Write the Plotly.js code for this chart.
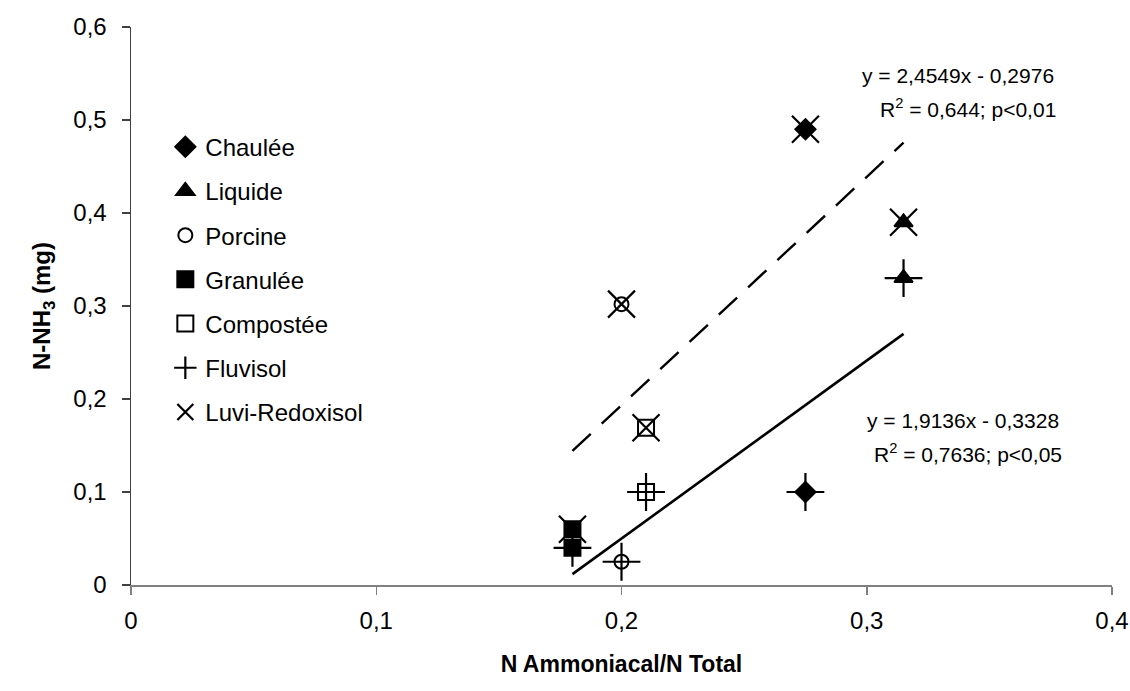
<!DOCTYPE html>
<html>
<head>
<meta charset="utf-8">
<script src="https://cdn.plot.ly/plotly-3.0.1.min.js"></script>
<style>html,body{margin:0;padding:0;background:#fff;}#chart{width:1130px;height:691px;}</style>
</head>
<body>
<div id="chart"></div>
<script>
// Fertilizer categories, x = N ammoniacal / N total
const categories = ["Chaulée", "Liquide", "Porcine", "Granulée", "Compostée"];
const ratioX = [0.275, 0.315, 0.20, 0.18, 0.21];
// N-NH3 (mg) per soil
const fluvisolY = [0.10, 0.33, 0.025, 0.04, 0.10];
const luviY = [0.49, 0.39, 0.302, 0.06, 0.169];
const soils = ["Fluvisol", "Luvi-Redoxisol"];
// trend lines (slope, intercept) and x range
const fluvisolFit = [1.9136, -0.3328];
const luviFit = [2.4549, -0.2976];
const fitRange = [0.18, 0.315];
const xTicks = [0, 0.1, 0.2, 0.3, 0.4];
const yTicks = [0, 0.1, 0.2, 0.3, 0.4, 0.5, 0.6];

const symbols = ["diamond", "triangle-up", "circle-open", "square", "square-open"];
const sizes = [15.5, 16, 14, 16, 16];
const font = "Liberation Sans, Arial, sans-serif";

const traces = [];
categories.forEach((c, i) => {
  traces.push({
    type: "scatter", mode: "markers", name: c, legendgroup: "g" + i,
    x: [ratioX[i], ratioX[i]], y: [fluvisolY[i], luviY[i]],
    marker: {symbol: symbols[i], size: sizes[i], color: "#000", line: {color: "#000", width: 2}},
    cliponaxis: false
  });
});
traces.push({
  type: "scatter", mode: "markers", name: soils[0], legendgroup: "g5",
  x: ratioX, y: fluvisolY,
  marker: {symbol: "cross-thin", size: 27, color: "#000", line: {color: "#000", width: 2.2}},
  cliponaxis: false
});
traces.push({
  type: "scatter", mode: "markers", name: soils[1], legendgroup: "g6",
  x: ratioX, y: luviY,
  marker: {symbol: "x-thin", size: 27, color: "#000", line: {color: "#000", width: 2.2}},
  cliponaxis: false
});
traces.push({
  type: "scatter", mode: "lines", showlegend: false, hoverinfo: "skip",
  x: fitRange, y: fitRange.map(v => fluvisolFit[0] * v + fluvisolFit[1]),
  line: {color: "#000", width: 2.6}
});
traces.push({
  type: "scatter", mode: "lines", showlegend: false, hoverinfo: "skip",
  x: fitRange, y: fitRange.map(v => luviFit[0] * v + luviFit[1]),
  line: {color: "#000", width: 2.4, dash: "25px,15px"}
});

const eqFont = {family: font, size: 21, color: "#000"};
const tickFont = {family: font, size: 24, color: "#000"};
const layout = {
  width: 1130, height: 691,
  margin: {l: 131, r: 18, t: 27, b: 106},
  paper_bgcolor: "#fff", plot_bgcolor: "#fff",
  separators: ", ",
  font: {family: font, color: "#000", size: 24},
  showlegend: true,
  legend: {
    x: 0.035, y: 0.825, xanchor: "left", yanchor: "top",
    font: {family: font, size: 24, color: "#000"},
    tracegroupgap: 10, bgcolor: "rgba(0,0,0,0)", borderwidth: 0
  },
  xaxis: {
    range: [0, 0.4], tickmode: "array", tickvals: xTicks, ticktext: xTicks.map(v => String(v).replace(".", ",")),
    showgrid: false, zeroline: false, showline: true, linecolor: "#808080", linewidth: 1.5,
    ticks: "outside", ticklen: 8, tickcolor: "#808080", tickwidth: 1.5,
    ticklabelstandoff: 6,
    tickfont: tickFont,
    title: {text: "<b>N Ammoniacal/N Total</b>", font: {family: font, size: 23, color: "#000"}, standoff: 22}
  },
  yaxis: {
    range: [0, 0.6], tickmode: "array", tickvals: yTicks, ticktext: yTicks.map(v => String(v).replace(".", ",")),
    showgrid: false, zeroline: false, showline: true, linecolor: "#404040", linewidth: 1.5,
    ticks: "outside", ticklen: 8, tickcolor: "#404040", tickwidth: 1.5,
    ticklabelstandoff: 10,
    tickfont: tickFont,
    title: {text: "<b>N-NH<sub>3</sub> (mg)</b>", font: {family: font, size: 24, color: "#000"}, standoff: 16}
  },
  annotations: [
    {xref: "paper", yref: "paper", x: 0.843, y: (585 - 75) / 558, text: "y = 2,4549x - 0,2976", showarrow: false, xanchor: "center", yanchor: "middle", font: eqFont},
    {xref: "paper", yref: "paper", x: 0.853, y: (585 - 108) / 558, text: "R<sup>2</sup> = 0,644; p<0,01", showarrow: false, xanchor: "center", yanchor: "middle", font: eqFont},
    {xref: "paper", yref: "paper", x: 0.848, y: (585 - 420) / 558, text: "y = 1,9136x - 0,3328", showarrow: false, xanchor: "center", yanchor: "middle", font: eqFont},
    {xref: "paper", yref: "paper", x: 0.853, y: (585 - 453) / 558, text: "R<sup>2</sup> = 0,7636; p<0,05", showarrow: false, xanchor: "center", yanchor: "middle", font: eqFont}
  ]
};

Plotly.newPlot("chart", traces, layout, {staticPlot: true, displayModeBar: false});
</script>
</body>
</html>
